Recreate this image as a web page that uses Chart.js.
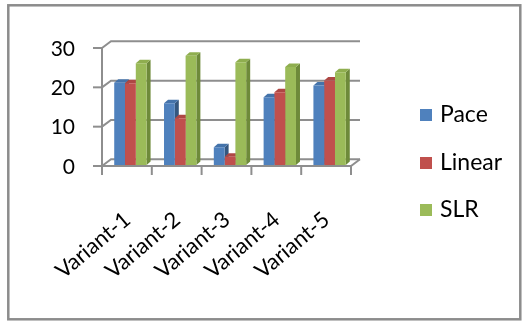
<!DOCTYPE html>
<html>
<head>
<meta charset="utf-8">
<script src="https://cdn.jsdelivr.net/npm/chart.js@4/dist/chart.umd.min.js"></script>
<style>
  html, body { margin: 0; padding: 0; background: #ffffff; }
  canvas { display: block; }
</style>
</head>
<body>
<canvas id="chart" width="528" height="322"></canvas>
<script>
// Categories and series values
const categories = ['Variant-1', 'Variant-2', 'Variant-3', 'Variant-4', 'Variant-5'];
const seriesNames = ['Pace', 'Linear', 'SLR'];
const pace   = [20.9, 15.7, 4.5, 17.2, 20.2];
const linear = [20.8, 11.9, 2.1, 18.5, 21.5];
const slr    = [25.9, 27.8, 26.1, 24.9, 23.6];
const yTicks = [0, 10, 20, 30];

// Face colours: front, side (shaded), top
const palette = [
  { front: '#4F81BD', side: '#34577F', top: '#4473AA' },
  { front: '#C0504D', side: '#883735', top: '#AE4744' },
  { front: '#9BBB59', side: '#6E8A3A', top: '#8FAE4F' }
];

// Pseudo-3D geometry relative to the plane the bar fronts sit in
const FRONT = { x: -3.5, y: 1 };     // front edge of floor / side wall
const BACK  = { x: 5.5,  y: -5.7 };  // back wall
const DEPTH = { x: 4,    y: -3.5 };  // column depth
const GRID = '#8E8E8E';
const FONT = 'Lato, "Open Sans", "DejaVu Sans", sans-serif';

function poly(ctx, pts, fill) {
  ctx.beginPath();
  ctx.moveTo(pts[0][0], pts[0][1]);
  for (let i = 1; i < pts.length; i++) ctx.lineTo(pts[i][0], pts[i][1]);
  ctx.closePath();
  ctx.fillStyle = fill;
  ctx.fill();
}

const frame3d = {
  id: 'frame3d',
  beforeDraw(chart) {
    const ctx = chart.ctx;
    ctx.save();
    ctx.fillStyle = '#ffffff';
    ctx.fillRect(0, 0, chart.width, chart.height);
    ctx.strokeStyle = '#8C8C8C';
    ctx.lineWidth = 2.5;
    ctx.strokeRect(8.3, 5.3, 512, 314);
    ctx.restore();
  },
  beforeDatasetsDraw(chart) {
    const ctx = chart.ctx;
    const xs = chart.scales.x, ys = chart.scales.y;
    const L = chart.chartArea.left, R = chart.chartArea.right;
    const y0 = ys.getPixelForValue(0);
    const yTop = ys.getPixelForValue(yTicks[yTicks.length - 1]);
    ctx.save();
    ctx.strokeStyle = GRID;
    ctx.lineWidth = 2;
    ctx.lineCap = 'butt';
    ctx.lineJoin = 'miter';

    // back wall gridlines with the side-wall diagonals
    yTicks.forEach(v => {
      const y = ys.getPixelForValue(v);
      ctx.beginPath();
      ctx.moveTo(L + FRONT.x, y + FRONT.y);
      ctx.lineTo(L + BACK.x, y + BACK.y);
      ctx.lineTo(R + BACK.x, y + BACK.y);
      ctx.stroke();
      // tick mark on the value axis
      ctx.beginPath();
      ctx.moveTo(L + FRONT.x - 9, y + FRONT.y);
      ctx.lineTo(L + FRONT.x, y + FRONT.y);
      ctx.stroke();
    });

    // value axis line
    ctx.beginPath();
    ctx.moveTo(L + FRONT.x, yTop + FRONT.y);
    ctx.lineTo(L + FRONT.x, y0 + FRONT.y);
    ctx.stroke();

    // floor: front edge and right edge
    ctx.beginPath();
    ctx.moveTo(L + FRONT.x, y0 + FRONT.y);
    ctx.lineTo(R + FRONT.x, y0 + FRONT.y);
    ctx.lineTo(R + BACK.x, y0 + BACK.y);
    ctx.stroke();

    // category tick marks at group boundaries
    for (let i = 0; i <= categories.length; i++) {
      const x = xs.getPixelForValue(i - 0.5) + FRONT.x;
      ctx.beginPath();
      ctx.moveTo(x, y0 + FRONT.y);
      ctx.lineTo(x, y0 + FRONT.y + 9);
      ctx.stroke();
    }

    // side and top faces of every column, series in order
    chart.data.datasets.forEach((ds, di) => {
      const meta = chart.getDatasetMeta(di);
      const col = palette[di];
      meta.data.forEach(bar => {
        const p = bar.getProps(['x', 'y', 'base', 'width'], true);
        const l = p.x - p.width / 2, r = p.x + p.width / 2;
        const t = p.y, b = p.base;
        poly(ctx, [[r, t], [r + DEPTH.x, t + DEPTH.y], [r + DEPTH.x, b + DEPTH.y], [r, b]], col.side);
        poly(ctx, [[l, t], [l + DEPTH.x, t + DEPTH.y], [r + DEPTH.x, t + DEPTH.y], [r, t]], col.top);
      });
    });
    ctx.restore();
  },
  afterDraw(chart) {
    const ctx = chart.ctx;
    const xs = chart.scales.x, ys = chart.scales.y;
    ctx.save();
    ctx.fillStyle = '#000000';

    // value labels
    ctx.font = '21px ' + FONT;
    ctx.textAlign = 'right';
    ctx.textBaseline = 'middle';
    yTicks.forEach(v => {
      ctx.fillText(String(v), 75, ys.getPixelForValue(v) + FRONT.y + 1);
    });

    // rotated category labels
    ctx.font = '22px ' + FONT;
    ctx.textAlign = 'right';
    ctx.textBaseline = 'alphabetic';
    categories.forEach((c, i) => {
      const x = xs.getPixelForValue(i) + FRONT.x + 5;
      ctx.save();
      ctx.translate(x, 222);
      ctx.rotate(-40 * Math.PI / 180);
      ctx.fillText(c, 0, 0);
      ctx.restore();
    });

    // legend
    ctx.font = '23px ' + FONT;
    ctx.textAlign = 'left';
    ctx.textBaseline = 'middle';
    const legendY = [115, 163, 210];
    seriesNames.forEach((n, i) => {
      ctx.fillStyle = palette[i].front;
      ctx.fillRect(420, legendY[i] - 6, 12, 12);
      ctx.fillStyle = '#000000';
      ctx.fillText(n, 440, legendY[i]);
    });
    ctx.restore();
  }
};

const seriesValues = [pace, linear, slr];

new Chart(document.getElementById('chart'), {
  type: 'bar',
  data: {
    labels: categories,
    datasets: seriesNames.map((n, i) => ({
      label: n,
      data: seriesValues[i],
      backgroundColor: palette[i].front,
      borderWidth: 0,
      categoryPercentage: 0.65,
      barPercentage: 1.0
    }))
  },
  options: {
    responsive: false,
    animation: false,
    devicePixelRatio: 1,
    layout: { padding: { left: 105.5, right: 173.5, top: 47, bottom: 157 } },
    scales: {
      x: { display: false, offset: true },
      y: { display: false, min: 0, max: 30, ticks: { stepSize: 10 } }
    },
    plugins: {
      legend: { display: false },
      tooltip: { enabled: false }
    }
  },
  plugins: [frame3d]
});
</script>
</body>
</html>
